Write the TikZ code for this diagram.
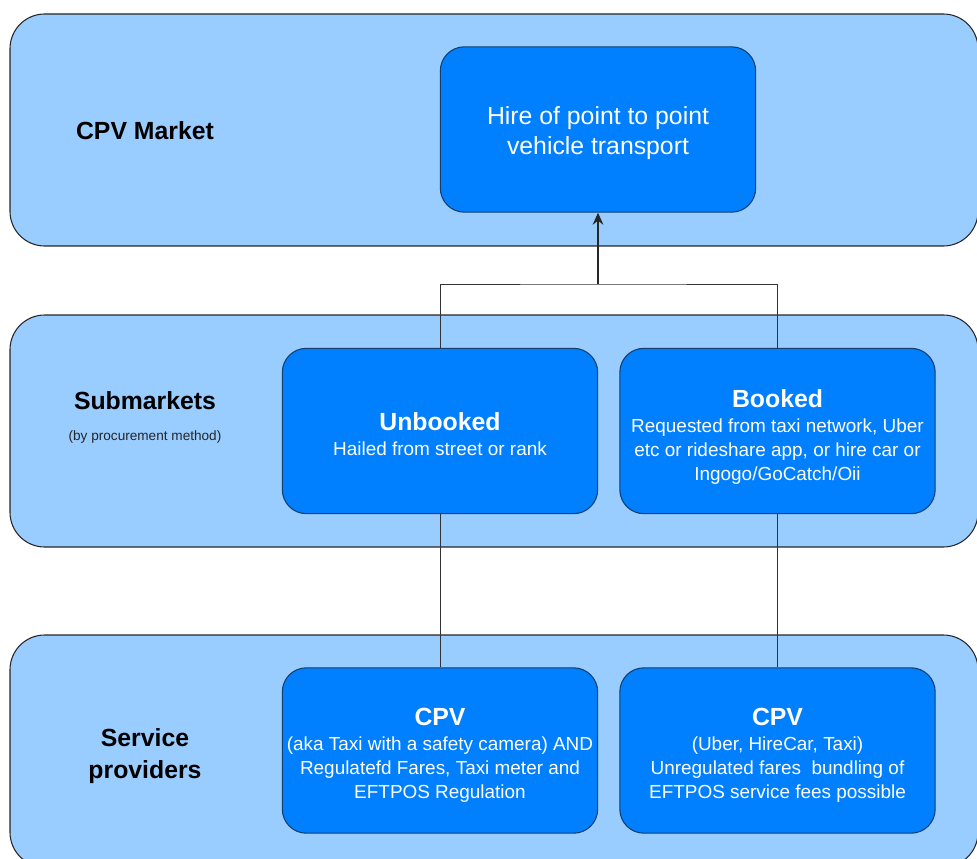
\documentclass[tikz,border=0pt]{standalone}
\usepackage{fontspec}
\setmainfont{Liberation Sans}
\usetikzlibrary{arrows.meta}
\definecolor{panelfill}{HTML}{99CCFF}
\definecolor{boxfill}{HTML}{007FFF}
\definecolor{boxline}{HTML}{123F6E}
\tikzset{
  panel/.style={draw=black!85, line width=0.8pt, fill=panelfill, rounded corners=26pt,
    minimum width=726pt, minimum height=174pt, inner sep=0pt},
  bluebox/.style={draw=boxline, line width=0.8pt, fill=boxfill, rounded corners=18pt,
    minimum width=236.5pt, minimum height=124pt, inner sep=0pt},
  boxtext/.style={text=white, align=center, inner sep=0pt,
    font=\fontsize{14.2}{18}\selectfont},
  paneltitle/.style={font=\fontsize{18.6}{23.2}\selectfont\bfseries, align=center, text=black},
  panelnote/.style={font=\fontsize{10.2}{12}\selectfont, text=black!85},
  link/.style={draw=black!80, line width=0.7pt},
  uparrow/.style={draw=black!85, line width=1.2pt, -{Stealth[length=9pt,width=8pt]}},
}
\newcommand{\boxtitle}[1]{{\fontsize{18.6}{20}\selectfont\bfseries #1}}
\begin{document}
\begin{tikzpicture}[x=0.75pt,y=-0.75pt]
  \useasboundingbox (0,0) rectangle (977,859);
  \clip (0,0) rectangle (977,859);
  % panels
  \node[panel] (p1) at (494,130) {};
  \node[panel] (p2) at (494,431) {};
  \node[panel] (p3) at (494,751) {};
  % panel labels
  \node[paneltitle] (l1) at (145,131) {CPV Market};
  \node[paneltitle] (l2) at (145,401) {Submarkets};
  \node[panelnote] (l2b) at (145,437) {(by procurement method)};
  \node[paneltitle] (l3) at (145,756) {Service\\[1pt]providers};
  % boxes
  \node[bluebox] (top) at (598,129.5) {};
  \node[boxtext, font=\fontsize{18.6}{22.5}\selectfont] (topt) at (598,133)
    {Hire of point to point\\vehicle transport};
  \node[bluebox] (unb) at (440,431) {};
  \node[boxtext] (unbt) at (440,434) {\boxtitle{Unbooked}\\[1pt]Hailed from street or rank};
  \node[bluebox] (bk) at (777.5,431) {};
  \node[boxtext] (bkt) at (777.5,437) {\boxtitle{Booked}\\[1pt]Requested from taxi network, Uber\\etc or rideshare app, or hire car or\\Ingogo/GoCatch/Oii};
  \node[bluebox] (cpv1) at (440,750.5) {};
  \node[boxtext] (cpv1t) at (440,755.5) {\boxtitle{CPV}\\[1pt](aka Taxi with a safety camera) AND\\Regulatefd Fares, Taxi meter and\\EFTPOS Regulation};
  \node[bluebox] (cpv2) at (777.5,750.5) {};
  \node[boxtext] (cpv2t) at (777.5,755.5) {\boxtitle{CPV}\\[1pt](Uber, HireCar, Taxi)\\Unregulated fares\ \ bundling of\\EFTPOS service fees possible};
  % connectors
  \coordinate (j) at (598,284);
  \draw[link] (unb.north) |- (j) -| (bk.north);
  \draw[uparrow] (j) -- (top.south);
  \draw[link] (unb.south) -- (cpv1.north);
  \draw[link] (bk.south) -- (cpv2.north);
\end{tikzpicture}
\end{document}
